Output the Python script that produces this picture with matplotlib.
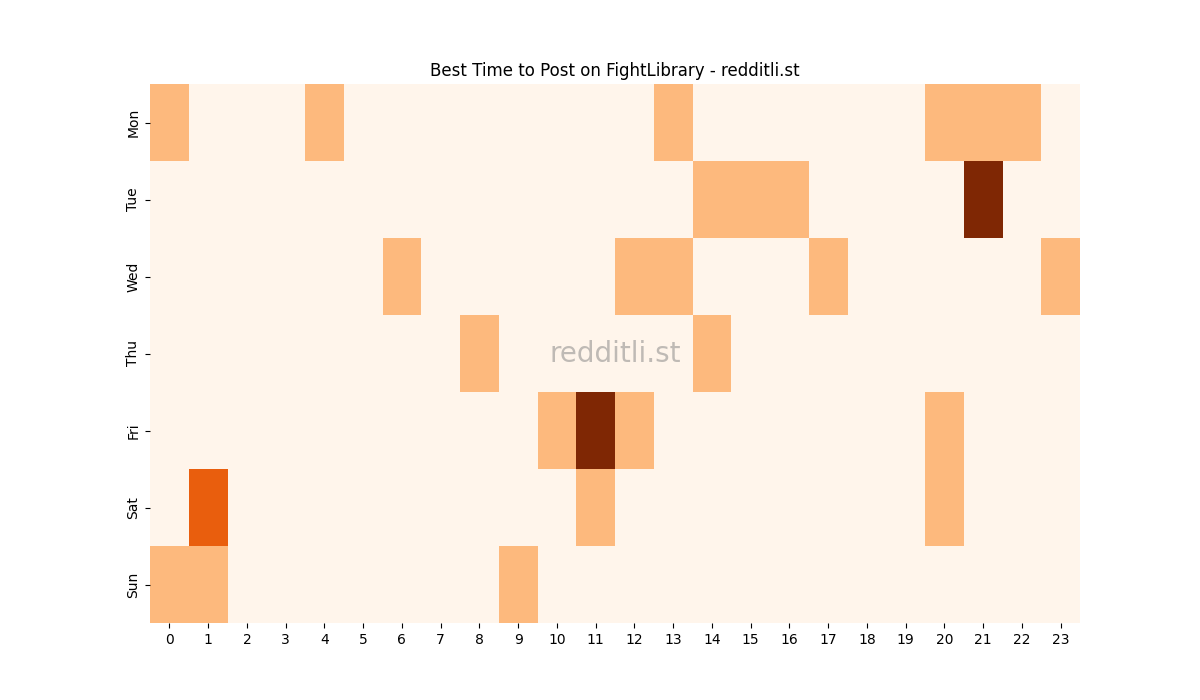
import matplotlib
matplotlib.use("Agg")
import matplotlib.pyplot as plt
import numpy as np
import seaborn as sns

days = ["Mon", "Tue", "Wed", "Thu", "Fri", "Sat", "Sun"]
hours = list(range(24))

# post counts per (day, hour); every other cell is 0
mon = {0: 1, 4: 1, 13: 1, 20: 1, 21: 1, 22: 1}
tue = {14: 1, 15: 1, 16: 1, 21: 3}
wed = {6: 1, 12: 1, 13: 1, 17: 1, 23: 1}
thu = {8: 1, 14: 1}
fri = {10: 1, 11: 3, 12: 1, 20: 1}
sat = {1: 2, 11: 1, 20: 1}
sun = {0: 1, 1: 1, 9: 1}

counts = np.zeros((len(days), len(hours)))
for i, row in enumerate([mon, tue, wed, thu, fri, sat, sun]):
    for h, v in row.items():
        counts[i, h] = v

fig, ax = plt.subplots(figsize=(12, 7), dpi=100)
sns.heatmap(counts, cmap="Oranges", cbar=False, ax=ax,
            xticklabels=hours, yticklabels=days)
ax.set_yticklabels(days, rotation=90, va="center")
ax.set_xticklabels(hours, rotation=0)
ax.set_title("Best Time to Post on FightLibrary - redditli.st")

# watermark
ax.text(0.5, 0.5, "redditli.st", transform=ax.transAxes, fontsize=20,
        color="gray", alpha=0.5, ha="center", va="center")

fig.savefig("out.png")
